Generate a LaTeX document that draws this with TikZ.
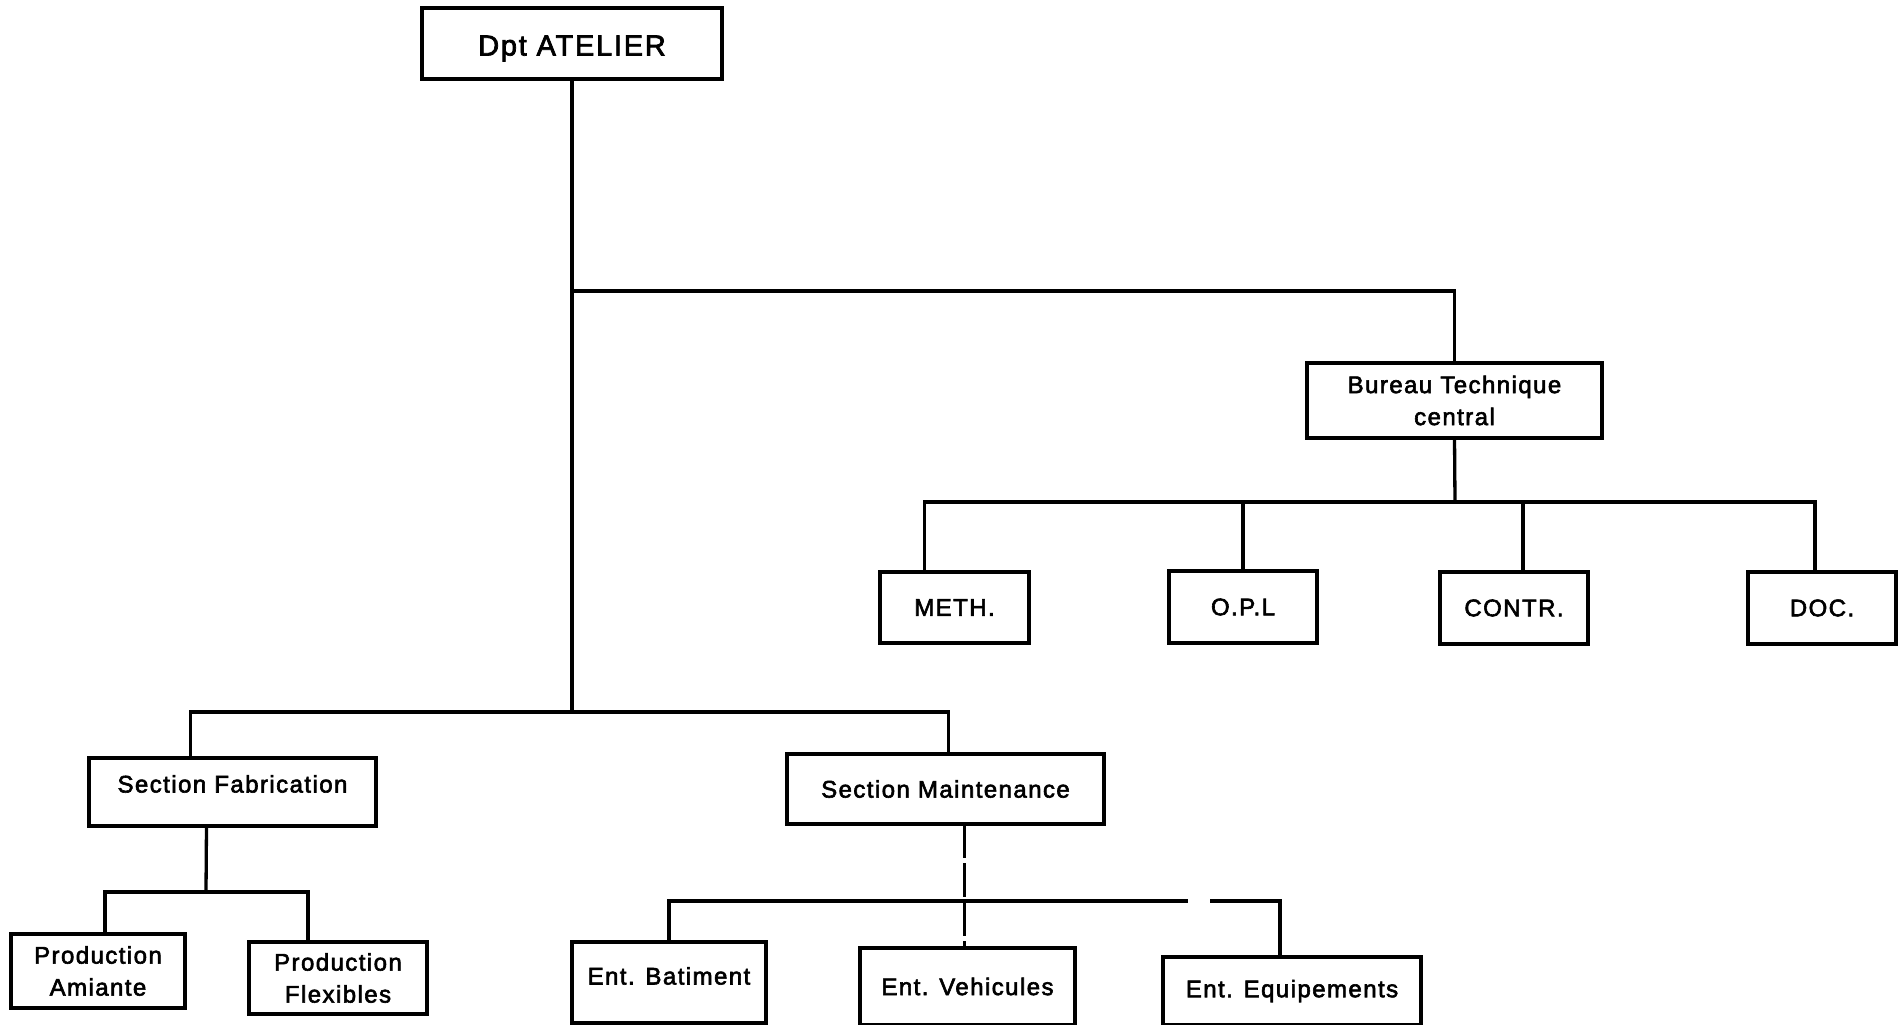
\documentclass[tikz,border=0pt]{standalone}
\usepackage{fontspec}
\setmainfont{Liberation Sans}[LetterSpace=6,FakeBold=2.5]
\begin{document}
\begin{tikzpicture}[x=1pt,y=-1pt,
  box/.style={draw,line width=3.3pt,inner sep=0pt,outer sep=0pt,align=center,
    font=\fontsize{24}{32}\selectfont},
  conn/.style={line width=3.3pt}]
\useasboundingbox (0,0) rectangle (1901,1025);
% boxes
\node[box,minimum width=300,minimum height=71,font=\fontsize{29}{34}\selectfont,text height=30pt,text depth=6pt] (top) at (572,43.5) {Dpt ATELIER};
\node[box,minimum width=295,minimum height=75] (btc) at (1454.5,400.5) {Bureau Technique\\central};
\node[box,minimum width=149,minimum height=71] (meth) at (954.5,607.5) {METH.};
\node[box,minimum width=148,minimum height=72] (opl) at (1243,607) {O.P.L};
\node[box,minimum width=148,minimum height=72] (contr) at (1514,608) {CONTR.};
\node[box,minimum width=148,minimum height=72] (doc) at (1822,608) {DOC.};
\node[box,minimum width=287,minimum height=68,text height=18pt,text depth=17pt] (sf) at (232.5,792) {Section Fabrication};
\node[box,minimum width=317,minimum height=70] (sm) at (945.5,789) {Section Maintenance};
\node[box,minimum width=174,minimum height=74] (pa) at (98,971) {Production\\Amiante};
\node[box,minimum width=178,minimum height=72] (pf) at (338,978) {Production\\Flexibles};
\node[box,minimum width=194,minimum height=81,text height=18pt,text depth=14pt] (eb) at (669,982.5) {Ent. Batiment};
\node[box,minimum width=215,minimum height=77] (ev) at (967.5,986.5) {Ent. Vehicules};
\node[box,minimum width=258,minimum height=68] (ee) at (1292,991) {Ent. Equipements};
% junctions
\coordinate (jb) at (572,291);
\coordinate (jm) at (572,712);
\coordinate (jt) at (1455,502);
\coordinate (jf) at (206,892);
\coordinate (gapa) at (1188,901);
\coordinate (gapb) at (1210,901);
% connectors
\draw[conn] (top.south) -- (jm);
\draw[conn] (jb) -| (btc.north);
\draw[conn] (btc.south) -- (jt);
\draw[conn] ([xshift=-30]meth.north) |- (jt) -| ([xshift=-7]doc.north);
\draw[conn] (opl.north) -- (opl.north |- jt);
\draw[conn] ([xshift=9]contr.north) -- ([xshift=9]contr.north |- jt);
\draw[conn] ([xshift=-42]sf.north) |- (jm) -| ([xshift=3]sm.north);
\draw[conn] ([xshift=-26]sf.south) -- (jf);
\draw[conn] ([xshift=7]pa.north) |- (jf) -| ([xshift=-30]pf.north);
\draw[conn,dash pattern=on 34pt off 5pt] ([xshift=19]sm.south) -- ([xshift=-3]ev.north);
\draw[conn] (eb.north) |- (gapa);
\draw[conn] (gapb) -| ([xshift=-12]ee.north);
\end{tikzpicture}
\end{document}
